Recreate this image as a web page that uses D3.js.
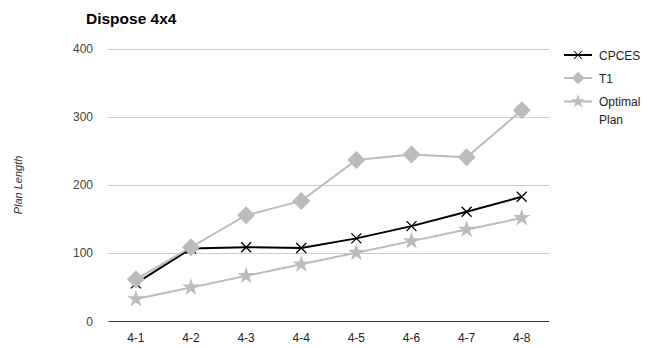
<!DOCTYPE html>
<html><head><meta charset="utf-8">
<script src="https://cdn.jsdelivr.net/npm/d3@7"></script>
<style>body{margin:0;background:#fff}svg{display:block;font-family:"Liberation Sans",Arial,sans-serif}</style>
</head><body><svg id="c" width="663" height="348"></svg>
<script>
const categories = ["4-1","4-2","4-3","4-4","4-5","4-6","4-7","4-8"];
const cpces = [56,107,109,108,122,140,161,183];
const t1 = [62,109,156,177,237,245,241,310];
const optimal = [33,50,67,84,101,118,135,152];
const yTicks = [0,100,200,300,400];
const seriesNames = ["CPCES","T1","Optimal Plan"];

const svg = d3.select("#c");
const x = d3.scaleBand().domain(categories).range([108.3,549.3]);
const y = d3.scaleLinear().domain([0,400]).range([321.5,49]);
const cx = d => x(d) + x.bandwidth()/2;

svg.append("g").selectAll("line").data(yTicks.filter(t=>t>0)).join("line")
  .attr("x1",108.3).attr("x2",549.3).attr("y1",d=>Math.round(y(d))+0.5).attr("y2",d=>Math.round(y(d))+0.5)
  .attr("stroke","#cccccc").attr("stroke-width",1);
svg.append("g").selectAll("text").data(yTicks).join("text")
  .attr("x",93).attr("y",d=>y(d)+4).attr("text-anchor","end")
  .attr("font-size",12).attr("fill","#444").text(d=>d);
svg.append("line").attr("x1",108.3).attr("x2",549.3).attr("y1",321.5).attr("y2",321.5)
  .attr("stroke","#333").attr("stroke-width",1);
svg.append("g").selectAll("text").data(categories).join("text")
  .attr("x",d=>cx(d)).attr("y",342).attr("text-anchor","middle")
  .attr("font-size",12).attr("fill","#222").text(d=>d);
svg.append("text").attr("x",86).attr("y",24).attr("font-size",15.5).attr("font-weight","bold").attr("fill","#000").text("Dispose 4x4");
svg.append("text").attr("transform","translate(22,185) rotate(-90)").attr("text-anchor","middle")
  .attr("font-size",11).attr("font-style","italic").attr("fill","#333").text("Plan Length");

const line = d3.line().x((d,i)=>cx(categories[i])).y(d=>y(d));
const starPath = d3.symbol().type(d3.symbolStar).size(95)();
const diamondPath = "M0,-9L9,0L0,9L-9,0Z";
const xPath = "M-5,-5L5,5M-5,5L5,-5";

const series = [
  {data: optimal, color:"#bbbbbb", marker:"star"},
  {data: cpces, color:"#000000", marker:"x"},
  {data: t1, color:"#bbbbbb", marker:"diamond"}
];
function drawMarker(g, type, color){
  if(type==="star") g.append("path").attr("d",starPath).attr("fill",color);
  else if(type==="diamond") g.append("path").attr("d",diamondPath).attr("fill",color);
  else g.append("path").attr("d",xPath).attr("stroke",color).attr("stroke-width",1.3).attr("fill","none");
}
series.forEach(s=>{
  svg.append("path").attr("d",line(s.data)).attr("fill","none").attr("stroke",s.color).attr("stroke-width",2);
  s.data.forEach((v,i)=>{
    const g = svg.append("g").attr("transform",`translate(${cx(categories[i])},${y(v)})`);
    drawMarker(g,s.marker,s.color);
  });
});

const leg = [
  {name:"CPCES", color:"#000000", marker:"x", y:55},
  {name:"T1", color:"#bbbbbb", marker:"diamond", y:78},
  {name:"Optimal Plan", color:"#bbbbbb", marker:"star", y:101.5}
];
leg.forEach(l=>{
  svg.append("line").attr("x1",564).attr("x2",592).attr("y1",l.y).attr("y2",l.y).attr("stroke",l.color).attr("stroke-width",2);
  const g = svg.append("g").attr("transform",`translate(578,${l.y}) scale(${l.marker==="diamond"?0.7:0.8})`);
  drawMarker(g,l.marker,l.color);
  const t = svg.append("text").attr("x",599).attr("y",l.y+4.5).attr("font-size",12).attr("fill","#222");
  const words = l.name.split(" ");
  words.forEach((w,i)=>t.append("tspan").attr("x",599).attr("dy",i===0?0:17.5).text(w));
});
</script></body></html>
